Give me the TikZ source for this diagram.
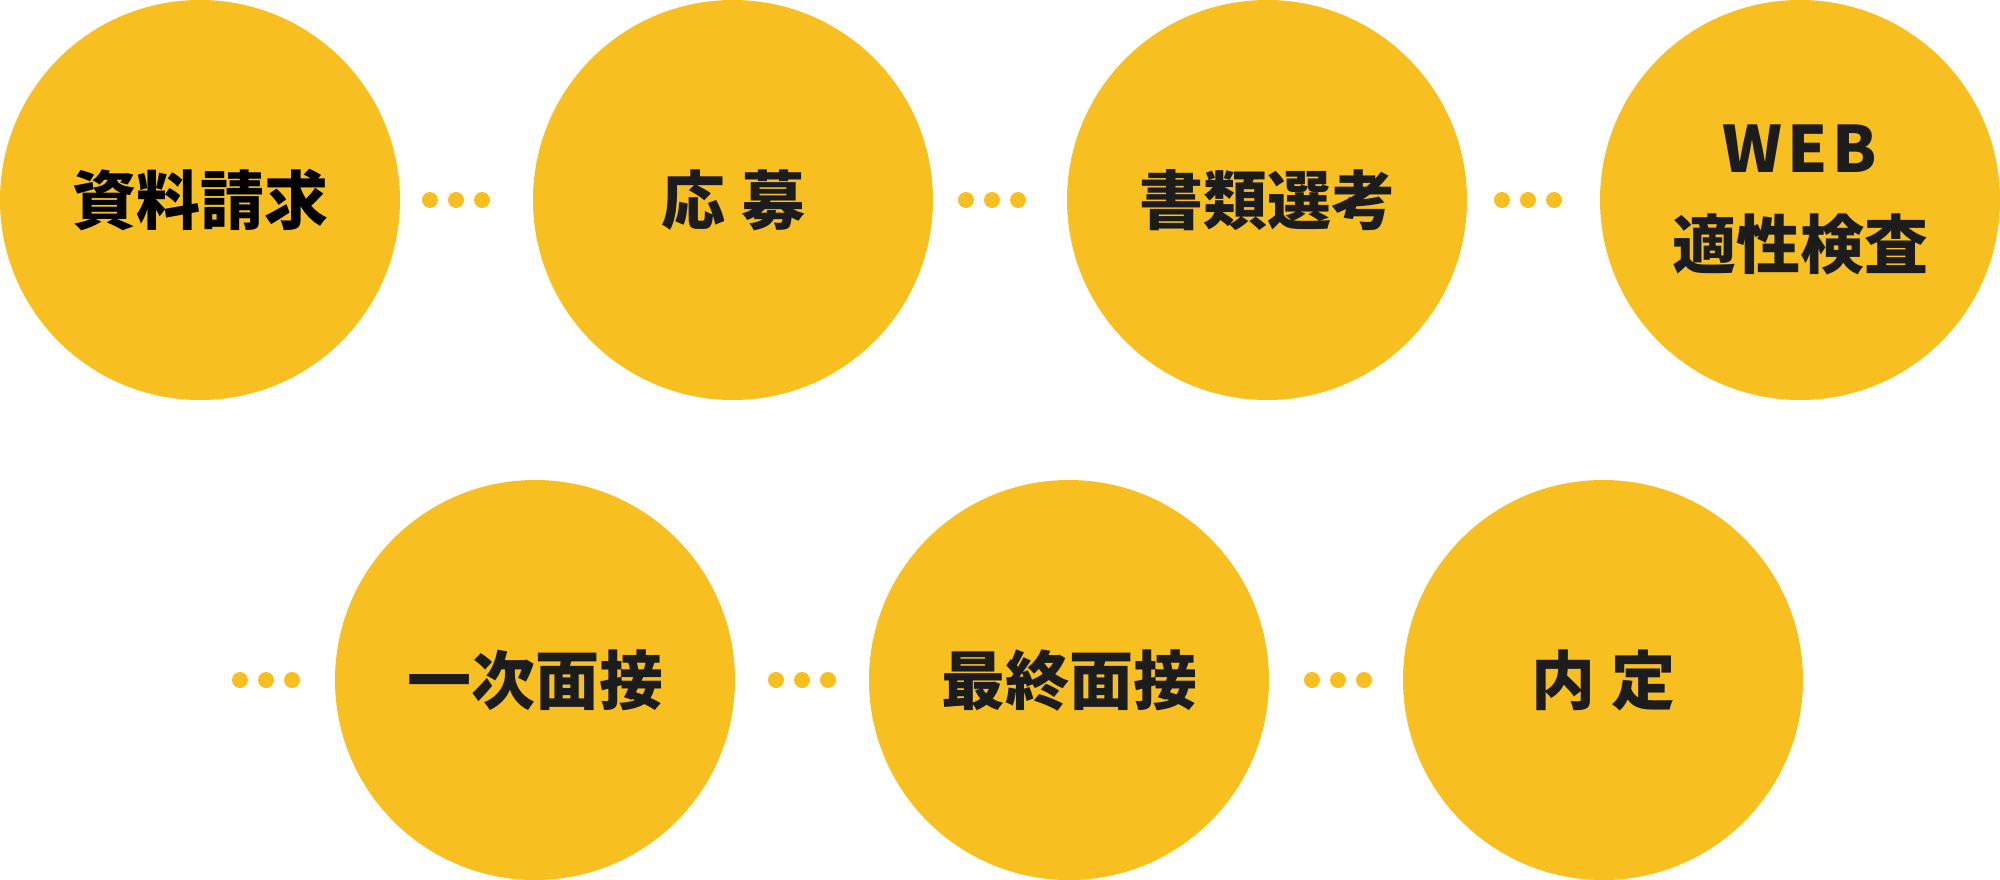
\documentclass[tikz,border=0pt]{standalone}
\usepackage{fontspec}
\newfontfamily\jp{Noto Sans CJK JP}
\definecolor{stepyellow}{HTML}{F7BF1F}
\definecolor{steptext}{HTML}{1C1C1C}
\newcommand\lowtext[1]{\raisebox{-6pt}{#1}}
\tikzset{
  stepcirc/.style={circle, fill=stepyellow, minimum size=400pt, inner sep=0pt,
    text=steptext, align=center, font=\jp\bfseries\fontsize{64}{96}\selectfont},
  stepdot/.style={circle, fill=stepyellow, minimum size=16pt, inner sep=0pt}
}
\begin{document}
\begin{tikzpicture}[x=1pt,y=-1pt]
\useasboundingbox (0,0) rectangle (2000,880);
\node[stepcirc, text=black] (s1) at (200,200) {\lowtext{資料請求}};
\node[stepcirc] (s2) at (733,200) {\lowtext{応\hspace{16pt}募}};
\node[stepcirc] (s3) at (1267,200) {\lowtext{書類選考}};
\node[stepcirc] (s4) at (1800,200) {{\addfontfeature{LetterSpace=8}WEB}\\適性検査};
\node[stepcirc] (s5) at (535,680) {\lowtext{一次面接}};
\node[stepcirc] (s6) at (1069,680) {\lowtext{最終面接}};
\node[stepcirc] (s7) at (1603,680) {\lowtext{内\hspace{16pt}定}};
\foreach \n/\x/\y in {a1/430/200,a2/456/200,a3/482/200,
                      b1/966/200,b2/992/200,b3/1018/200,
                      c1/1502/200,c2/1528/200,c3/1554/200,
                      d1/240/680,d2/266/680,d3/292/680,
                      e1/776/680,e2/802/680,e3/828/680,
                      f1/1312/680,f2/1338/680,f3/1364/680}
  \node[stepdot] (dot\n) at (\x,\y) {};
\end{tikzpicture}
\end{document}
